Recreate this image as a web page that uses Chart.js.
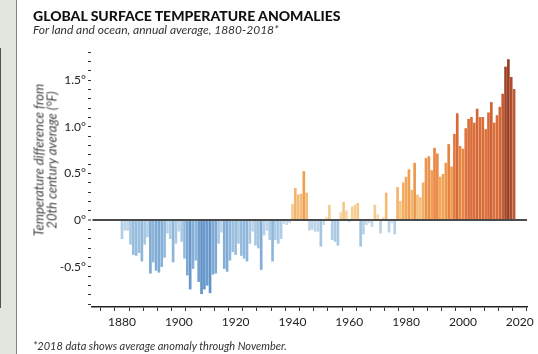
<!DOCTYPE html>
<html>
<head>
<meta charset="utf-8">
<script src="https://cdn.jsdelivr.net/npm/chart.js@4.4.1/dist/chart.umd.min.js"></script>
<style>
  html, body { margin: 0; padding: 0; background: #fff; overflow: hidden; }
  #wrap { position: relative; width: 538px; height: 354px; overflow: hidden; background: #fff; }
  #strip { position: absolute; left: 0; top: 0; width: 16px; height: 354px; background: #e3e6df; border-right: 1px solid #858585; }
  #chart { position: absolute; left: 0; top: 0; }
  .txt { position: absolute; white-space: nowrap; font-family: Lato, "Open Sans", sans-serif; }
  #title { left: 33px; top: 9px; font-size: 14px; line-height: 14px; font-weight: 900; color: #111; }
  #subtitle { left: 33px; top: 24px; font-size: 12px; line-height: 12px; font-style: italic; color: #333; }
  #ytitle { left: 45px; top: 160px; transform: translate(-50%, -50%) rotate(-90deg); text-align: center;
            font-size: 13px; line-height: 12.5px; font-style: italic; color: #444; }
  #note { left: 33px; top: 340px; font-size: 11px; line-height: 11px; font-style: italic; color: #333; }
</style>
</head>
<body>
<div id="wrap">
  <div id="strip"></div>
  <canvas id="chart" width="538" height="354"></canvas>
  <div class="txt" id="title">GLOBAL SURFACE TEMPERATURE ANOMALIES</div>
  <div class="txt" id="subtitle">For land and ocean, annual average, 1880-2018*</div>
  <div class="txt" id="ytitle">Temperature difference from<br>20th century average (°F)</div>
  <div class="txt" id="note">*2018 data shows average anomaly through November.</div>
</div>
<script>
// annual anomaly in °F vs. 20th century mean, one value per year from 1880
var firstYear = 1880;
var anomalies = [
  -0.20, -0.11, -0.11, -0.26, -0.37, -0.38, -0.35, -0.44, -0.26, -0.18, // 1880s
  -0.57, -0.45, -0.54, -0.56, -0.50, -0.40, -0.14, -0.20, -0.45, -0.25, // 1890s
  -0.12, -0.23, -0.41, -0.59, -0.74, -0.52, -0.43, -0.66, -0.79, -0.74, // 1900s
  -0.70, -0.78, -0.58, -0.57, -0.25, -0.13, -0.52, -0.55, -0.43, -0.34, // 1910s
  -0.37, -0.25, -0.38, -0.41, -0.44, -0.25, -0.12, -0.27, -0.30, -0.53, // 1920s
  -0.16, -0.11, -0.21, -0.44, -0.21, -0.25, -0.20, -0.04, -0.05, -0.03, // 1930s
   0.17,  0.34,  0.27,  0.28,  0.52,  0.29, -0.11, -0.10, -0.12, -0.12, // 1940s
  -0.28, -0.05,  0.03,  0.16, -0.21, -0.23, -0.27,  0.08,  0.19,  0.10, // 1950s
  -0.02,  0.14,  0.16,  0.18, -0.28, -0.15, -0.05, -0.03, -0.07,  0.16, // 1960s
   0.06, -0.14,  0.03,  0.29, -0.13, -0.03, -0.15,  0.35,  0.20,  0.40, // 1970s
   0.46,  0.54,  0.32,  0.61,  0.27,  0.24,  0.40,  0.66,  0.68,  0.53, // 1980s
   0.77,  0.71,  0.46,  0.49,  0.61,  0.81,  0.57,  0.92,  1.14,  0.79, // 1990s
   0.76,  0.98,  1.08,  1.10,  1.04,  1.19,  1.10,  1.10,  0.97,  1.15, // 2000s
   1.26,  1.04,  1.12,  1.21,  1.35,  1.64,  1.72,  1.53,  1.40        // 2010-2018
];
var years = anomalies.map(function (v, i) { return firstYear + i; });

var xTickLabels = [1880, 1900, 1920, 1940, 1960, 1980, 2000, 2020];
var yTickLabels = [-0.5, 0, 0.5, 1.0, 1.5];

// minor ticks: every 5 years / every 0.1°
var xTicks = [];
for (var t = 1875; t <= 2020; t += 5) xTicks.push(t);
var yTicks = [];
for (var k = -9; k <= 18; k++) yTicks.push(k / 10);

// colour ramps: pale near zero, deeper with size of anomaly
var coldStops = [[0, [206, 222, 236]], [0.3, [160, 196, 226]], [0.8, [96, 146, 200]]];
var warmStops = [[0, [250, 226, 190]], [0.2, [245, 198, 132]], [0.5, [241, 162, 82]],
                 [0.9, [228, 121, 62]], [1.3, [204, 96, 52]], [1.72, [150, 62, 36]]];

function ramp(stops, a) {
  if (a <= stops[0][0]) return stops[0][1];
  for (var i = 1; i < stops.length; i++) {
    if (a <= stops[i][0]) {
      var f = (a - stops[i - 1][0]) / (stops[i][0] - stops[i - 1][0]);
      return stops[i - 1][1].map(function (c, j) { return Math.round(c + (stops[i][1][j] - c) * f); });
    }
  }
  return stops[stops.length - 1][1];
}

function barColor(v) {
  var c = v < 0 ? ramp(coldStops, -v) : ramp(warmStops, v);
  return "rgb(" + c.join(",") + ")";
}

var tickFont = { family: "Lato, 'Open Sans', sans-serif", size: 12 };

new Chart("chart", {
  type: "bar",
  data: {
    datasets: [
      {
        data: years.map(function (y, i) { return { x: y, y: anomalies[i] }; }),
        backgroundColor: anomalies.map(barColor),
        barThickness: 2,
        borderWidth: 0,
      },
    ],
  },
  options: {
    responsive: false,
    animation: false,
    layout: { padding: { top: 49, right: 11, left: 0, bottom: 0 } },
    plugins: {
      legend: { display: false },
      tooltip: { enabled: false },
    },
    scales: {
      x: {
        type: "linear",
        min: 1872,
        max: 2020,
        afterBuildTicks: function (axis) {
          axis.ticks = xTicks.map(function (v) { return { value: v }; });
        },
        afterFit: function (axis) { axis.height = 47; },
        ticks: {
          autoSkip: false,
          maxRotation: 0,
          padding: 4,
          color: "#222",
          font: tickFont,
          callback: function (v) { return xTickLabels.indexOf(v) >= 0 ? String(v) : ""; },
        },
        grid: { drawOnChartArea: false, tickLength: 4, tickColor: "#333", tickWidth: 1 },
        border: { color: "#222", width: 1.5 },
      },
      y: {
        min: -0.932,
        max: 1.833,
        afterBuildTicks: function (axis) {
          axis.ticks = yTicks.map(function (v) { return { value: v }; });
        },
        afterFit: function (axis) { axis.width = 92; },
        ticks: {
          autoSkip: false,
          padding: 2,
          color: "#222",
          font: tickFont,
          callback: function (v) {
            if (yTickLabels.indexOf(v) < 0) return "";
            return v === 0 ? "0°" : v.toFixed(1) + "°";
          },
        },
        grid: {
          z: 1,
          color: function (ctx) { return ctx.tick && ctx.tick.value === 0 ? "#4a4a4a" : "rgba(0,0,0,0)"; },
          lineWidth: function (ctx) { return ctx.tick && ctx.tick.value === 0 ? 2 : 1; },
          tickColor: "#333",
          tickWidth: 1,
          tickLength: 4,
        },
        border: { color: "#222", width: 1.5 },
      },
    },
  },
});
</script>
</body>
</html>
